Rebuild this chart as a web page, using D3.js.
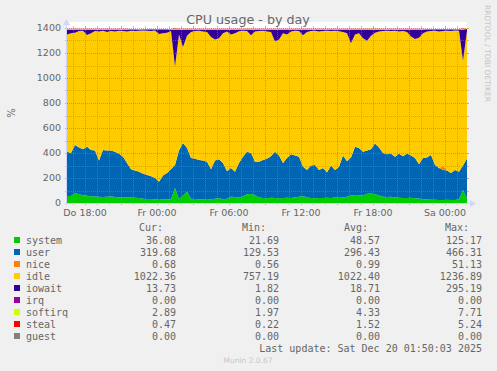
<!DOCTYPE html>
<html><head><meta charset="utf-8">
<script src="https://cdn.jsdelivr.net/npm/d3@7"></script>
<style>body{margin:0;background:#F0F0F0;}svg{display:block}</style>
</head><body>
<svg id="c" width="497" height="371"></svg>
<script>
// ---- data (one sample every 20 minutes) ----
const startTime = Date.UTC(2025, 11, 18, 16, 30);
const stepMinutes = 20;

const system = [56,56,80,70,62,58,55,52,50,48, 50,55,48,45,48,45,45,42,40,35, 32,32,30,32,30,28,30,120,30,60,
  90,35,32,30,30,32,30,35,40,30, 35,50,48,45,55,70,72,65,45,40, 38,42,40,38,40,42,40,45,50,56,
  45,40,38,40,40,42,40,45,42,44, 50,60,64,62,60,75,77,70,60,50, 48,50,45,42,40,40,42,38,36,30,
  28,26,26,25,24,26,25,24,30,104, 36];
const user = [354,344,385,375,368,392,369,368,290,376, 370,365,362,350,322,275,225,218,210,200,
  193,183,170,138,190,212,240,184,390,420, 350,325,323,315,310,298,240,305,310,290,
  220,230,202,275,315,340,328,265,285,304, 317,333,370,342,280,318,350,335,320,234,
  220,260,267,224,240,203,260,219,248,336, 285,305,386,378,350,345,353,407,385,350,
  342,345,325,353,335,355,338,322,274,330, 337,359,279,255,241,234,215,240,220,196, 320];
const nice = [1,1,0.8,1,1,1.2,1,0.9,1,1, 1,0.8,1,1,1,0.9,1,1,1.1,1, 1,1,0.9,1,1,1,0.8,1,1.2,1,
  1,1,0.9,1,1,1,1,1,0.8,1, 1,1,1,1.1,1,1,0.9,1,1,1, 1,0.8,1,1,1,1,0.9,1,1,1,
  1,1,1,0.9,1,1,1,1,1.1,1, 1,1,0.9,1,1,1,1,0.8,1,1, 1,1,1,0.9,1,1,1,1,1,1,
  1,1,1,1,30,1,1,0.9,1,1, 0.7];
const idle = [937,957,897,930,947,892,933,955,1032,953, 947,955,962,982,1005,1052,1107,1115,1127,1144,
  1152,1160,1179,1182,1137,1122,1105,788,927,767, 897,1007,1020,1032,1032,1037,1057,967,967,1037,
  1117,1067,1107,1052,1007,965,942,1042,1045,1033, 1017,992,882,927,1037,987,982,997,1005,1052,
  1102,1075,1072,1108,1095,1132,1075,1113,1082,987, 1022,912,897,917,907,877,907,885,927,975,
  987,980,1007,977,1000,972,952,952,1012,997, 1007,990,1072,1092,1081,1117,1135,1115,1127,837, 1022];
const iowait = [40,30,25,12,10,45,30,12,15,10, 20,12,15,10,12,15,10,12,10,8, 10,12,8,35,30,25,12,295,40,140,
  50,20,12,10,15,20,60,80,70,30, 15,40,30,15,10,12,45,15,12,10, 15,20,95,80,30,40,15,10,12,45,
  20,12,10,15,12,10,12,10,15,20, 30,110,40,30,70,90,50,25,15,12, 10,12,10,15,12,20,55,75,65,30,
  15,12,10,15,12,10,12,8,10,250, 14];
const irq = [0,0,0,0,0,0,0,0,0,0, 0,0,0,0,0,0,0,0,0,0, 0,0,0,0,0,0,0,0,0,0, 0,0,0,0,0,0,0,0,0,0,
  0,0,0,0,0,0,0,0,0,0, 0,0,0,0,0,0,0,0,0,0, 0,0,0,0,0,0,0,0,0,0, 0,0,0,0,0,0,0,0,0,0,
  0,0,0,0,0,0,0,0,0,0, 0,0,0,0,0,0,0,0,0,0, 0];
const softirq = [5,4,6,5,4,5,4,4,4,5, 4,4,5,4,4,4,3,3,3,3, 3,3,3,3,3,3,4,7,4,5, 6,4,4,4,4,4,4,4,4,4,
  4,5,5,4,5,6,6,5,4,4, 4,4,4,4,4,4,4,5,5,5, 4,4,4,4,4,4,4,5,4,4, 5,5,6,5,5,6,6,6,5,5,
  4,4,4,4,4,4,4,4,4,4, 3,3,3,3,3,3,3,3,3,6, 3];
const steal = [2,2,2,1.5,1.5,2,1.5,1.5,1.5,1.5, 1.5,1.5,1.5,1.5,1.5,1.5,1,1,1,1, 1,1,1,1,1,1,1,3,1.5,2,
  2,1.5,1.5,1.5,1.5,1.5,1.5,1.5,1.5,1.5, 1.5,1.5,1.5,1.5,1.5,2,2,1.5,1.5,1.5, 1.5,1.5,1.5,1.5,1.5,1.5,1.5,1.5,1.5,2,
  1.5,1.5,1.5,1.5,1.5,1.5,1.5,1.5,1.5,1.5, 2,2,2,2,2,2,2,2,1.5,1.5, 1.5,1.5,1.5,1.5,1.5,1.5,1.5,1.5,1.5,1.5,
  1,1,1,1,1,1,1,1,1,5, 0.5];
const guest = [0,0,0,0,0,0,0,0,0,0, 0,0,0,0,0,0,0,0,0,0, 0,0,0,0,0,0,0,0,0,0, 0,0,0,0,0,0,0,0,0,0,
  0,0,0,0,0,0,0,0,0,0, 0,0,0,0,0,0,0,0,0,0, 0,0,0,0,0,0,0,0,0,0, 0,0,0,0,0,0,0,0,0,0,
  0,0,0,0,0,0,0,0,0,0, 0,0,0,0,0,0,0,0,0,0, 0];

const seriesNames  = ["system","user","nice","idle","iowait","irq","softirq","steal","guest"];
const seriesColors = ["#00CC00","#0066B3","#FF8000","#FFCC00","#330099","#990099","#CCFF00","#FF0000","#808080"];
const curStats = ["36.08","319.68","0.68","1022.36","13.73","0.00","2.89","0.47","0.00"];
const minStats = ["21.69","129.53","0.56","757.19","1.82","0.00","1.97","0.22","0.00"];
const avgStats = ["48.57","296.43","0.99","1022.40","18.71","0.00","4.33","1.52","0.00"];
const maxStats = ["125.17","466.31","51.13","1236.89","295.19","0.00","7.71","5.24","0.00"];

const yTicks = [0,200,400,600,800,1000,1200,1400];
const xTickLabels = ["Do 18:00","Fr 00:00","Fr 06:00","Fr 12:00","Fr 18:00","Sa 00:00"];
const xTickTimes = [Date.UTC(2025,11,18,18), Date.UTC(2025,11,19,0), Date.UTC(2025,11,19,6),
                    Date.UTC(2025,11,19,12), Date.UTC(2025,11,19,18), Date.UTC(2025,11,20,0)];
const titleText = "CPU usage - by day";
const lastUpdate = "Last update: Sat Dec 20 01:50:03 2025";

// ---- drawing ----
const svg = d3.select("#c");
const L = 67, R = 467, T = 28, B = 203;
const endTime = startTime + 400 * 5 * 60000;
const x = d3.scaleUtc().domain([startTime, endTime]).range([L, R]);
const y = d3.scaleLinear().domain([0, 1400]).range([B, T]);

const seriesArrays = [system,user,nice,idle,iowait,irq,softirq,steal,guest];
const rows = system.map((_, i) => {
  const r = {t: startTime + i * stepMinutes * 60000};
  seriesNames.forEach((n, k) => r[n] = seriesArrays[k][i]);
  return r;
});
const stacked = d3.stack().keys(seriesNames)(rows);

svg.append("rect").attr("x", L).attr("y", T - 6).attr("width", R - L).attr("height", B - T + 6).attr("fill", "#FFFFFF");

const area = d3.area().x(d => x(d.data.t)).y0(d => y(d[0])).y1(d => y(d[1]));
svg.append("g").selectAll("path").data(stacked).join("path")
  .attr("d", area).attr("fill", (d, i) => seriesColors[i]);

// grid
const grid = svg.append("g").attr("shape-rendering", "crispEdges");
const minorCol = "rgba(215,110,70,0.5)", majorCol = "rgba(235,80,80,0.6)";
d3.range(0, 1401, 100).forEach(v => {
  const col = v % 200 === 0 ? majorCol : minorCol;
  const yy = Math.round(y(v)) + 0.5;
  grid.append("line").attr("x1", L).attr("x2", R).attr("y1", yy).attr("y2", yy)
    .attr("stroke", col).attr("stroke-dasharray", "1,1");
  grid.append("line").attr("x1", L - 2).attr("x2", L).attr("y1", yy).attr("y2", yy).attr("stroke", col);
  grid.append("line").attr("x1", R).attr("x2", R + 2).attr("y1", yy).attr("y2", yy).attr("stroke", col);
});
const hourTicks = d3.utcHour.range(new Date(startTime), new Date(endTime));
hourTicks.forEach(h => {
  const hr = h.getUTCHours();
  const col = hr % 3 === 0 ? majorCol : minorCol;
  const xx = Math.round(x(h)) + 0.5;
  grid.append("line").attr("x1", xx).attr("x2", xx).attr("y1", T).attr("y2", B)
    .attr("stroke", col).attr("stroke-dasharray", "1,1");
  grid.append("line").attr("x1", xx).attr("x2", xx).attr("y1", B).attr("y2", B + 2).attr("stroke", col);
  grid.append("line").attr("x1", xx).attr("x2", xx).attr("y1", T - 2).attr("y2", T).attr("stroke", col);
});

// axes
const axisCol = "#CFD6F8";
svg.append("line").attr("x1", L - 0.5).attr("x2", L - 0.5).attr("y1", B + 2).attr("y2", T - 4).attr("stroke", axisCol);
svg.append("line").attr("x1", L - 2).attr("x2", R + 4).attr("y1", B + 0.5).attr("y2", B + 0.5).attr("stroke", axisCol);
svg.append("path").attr("d", `M${L-4},${T-3}L${L+3},${T-3}L${L-0.5},${T-9}Z`).attr("fill", axisCol);
svg.append("path").attr("d", `M${R+3},${B-3}L${R+3},${B+4}L${R+9},${B+0.5}Z`).attr("fill", axisCol);

const font = "DejaVu Sans, sans-serif";
const textCol = "#666666";
svg.append("g").selectAll("text").data(yTicks).join("text")
  .attr("x", 61).attr("y", d => y(d)).attr("dy", "0.36em").attr("text-anchor", "end")
  .attr("font-family", font).attr("font-size", 9.5).attr("fill", textCol).text(d => d);
svg.append("g").selectAll("text").data(xTickTimes).join("text")
  .attr("x", d => x(d)).attr("y", 216).attr("text-anchor", "middle")
  .attr("font-family", font).attr("font-size", 9.5).attr("fill", textCol).text((d, i) => xTickLabels[i]);

svg.append("text").attr("x", 248).attr("y", 24).attr("text-anchor", "middle")
  .attr("font-family", font).attr("font-size", 12.7).attr("fill", textCol).text(titleText);
svg.append("text").attr("transform", "translate(15,113) rotate(-90)").attr("text-anchor", "middle")
  .attr("font-family", font).attr("font-size", 10).attr("fill", textCol).text("%");
svg.append("text").attr("transform", "translate(485,5) rotate(90)").attr("text-anchor", "start")
  .attr("font-family", font).attr("font-size", 7.5).attr("fill", "#C4C4C4")
  .attr("textLength", 97).attr("lengthAdjust", "spacingAndGlyphs").text("RRDTOOL / TOBI OETIKER");

// legend
const mono = "DejaVu Sans Mono, monospace";
const lg = svg.append("g").attr("font-family", mono).attr("font-size", 10).attr("fill", textCol);
[["Cur:",163],["Min:",266],["Avg:",368],["Max:",469]].forEach(h =>
  lg.append("text").attr("x", h[1]).attr("y", 227).attr("dy", "0.36em").attr("text-anchor", "end").text(h[0]));
seriesNames.forEach((n, i) => {
  const yy = 240 + i * 12;
  lg.append("rect").attr("x", 14).attr("y", yy - 3).attr("width", 6).attr("height", 6).attr("fill", seriesColors[i]);
  lg.append("text").attr("x", 26).attr("y", yy).attr("dy", "0.36em").text(n);
  [[curStats,176],[minStats,279],[avgStats,380],[maxStats,482]].forEach(c =>
    lg.append("text").attr("x", c[1]).attr("y", yy).attr("dy", "0.36em").attr("text-anchor", "end").text(c[0][i]));
});
lg.append("text").attr("x", 482).attr("y", 348).attr("dy", "0.36em").attr("text-anchor", "end").text(lastUpdate);
svg.append("text").attr("x", 248).attr("y", 360).attr("dy", "0.36em").attr("text-anchor", "middle")
  .attr("font-family", font).attr("font-size", 7.5).attr("fill", "#C8C8C8").text("Munin 2.0.67");
</script>
</body></html>
